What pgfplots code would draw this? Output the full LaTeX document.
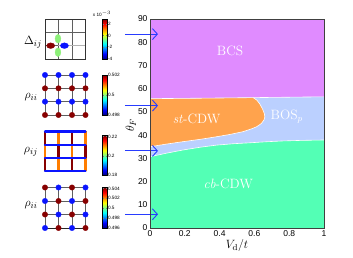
\documentclass[border=0pt]{standalone}
\usepackage{fontspec}
\newfontfamily\arial{Liberation Sans}
\usepackage{pgfplots}
\pgfplotsset{compat=1.18}
\usetikzlibrary{arrows.meta}
\definecolor{bcs}{RGB}{224,139,255}
\definecolor{stcdw}{RGB}{255,163,77}
\definecolor{bos}{RGB}{187,208,255}
\definecolor{cbcdw}{RGB}{83,255,181}
\definecolor{arrowblue}{RGB}{40,60,255}
\definecolor{jred}{RGB}{135,0,0}
\definecolor{jblue}{RGB}{10,20,255}
\definecolor{jorange}{RGB}{255,125,0}
\definecolor{jgreen}{RGB}{140,240,120}
\definecolor{latgray}{RGB}{95,95,95}
\pgfplotsset{
  inset/.style={scale only axis, width=40.5pt, height=40pt,
    xmin=0, xmax=3, ymin=0, ymax=3, hide axis, clip=false,
    colorbar, colormap/jet,
    colorbar style={at={(parent axis.north east)}, anchor=north west,
      xshift=8.5pt, width=4.5pt,
      major tick length=1pt,
      axis line style={line width=0.4pt},
      yticklabel style={font=\arial\fontsize{4.7}{5}\selectfont, inner xsep=0.8pt},
    }},
  cbstyle/.style={colorbar style={#1}},
}
\begin{document}
\begin{tikzpicture}[x=1pt,y=1pt]
\path[use as bounding box] (0,0) rectangle (353,257);

% ---------------- main phase diagram ----------------
\begin{axis}[
  at={(150pt,29pt)}, anchor=south west, scale only axis,
  width=174pt, height=209pt,
  xmin=0, xmax=1, ymin=0, ymax=90,
  xtick={0,0.2,0.4,0.6,0.8,1}, xticklabels={0,0.2,0.4,0.6,0.8,1},
  ytick={0,10,20,30,40,50,60,70,80,90},
  tick label style={font=\arial\fontsize{8.5}{9}\selectfont},
  /pgf/number format/assume math mode=true,
  tick style={draw=none},
  axis line style={draw=black!75, line width=0.8pt},
  axis on top, clip=false,
  xlabel={$V_{\mathrm{d}}/t$},
  label style={font=\fontsize{12.5}{14}\selectfont},
  xlabel style={yshift=4pt},
  yticklabel style={xshift=1pt},
  xticklabel style={yshift=1pt},
]
\addplot[fill=bcs, draw=none] coordinates {(0,0)(1,0)(1,90)(0,90)} -- cycle;
\addplot[fill=bos, draw=none] coordinates {(0,0)(1,0)(1,56.5)(0.6,56.15)(0.3,55.9)(0,55.7)} -- cycle;
\addplot[fill=stcdw, draw=none] coordinates {(0,55.7)(0.3,55.9)(0.594,56.1)(0.615,55.0)(0.632,53.3)(0.647,51.2)(0.657,49.3)(0.660,47.8)(0.655,46.5)(0.640,45.0)(0.613,43.6)(0.58,42.6)(0.536,41.5)(0.46,40.3)(0.383,39.3)(0.29,38.2)(0.192,37.2)(0.1,36.2)(0,35.0)} -- cycle;
\addplot[fill=cbcdw, draw=none] coordinates {(0,0)(1,0)(1,37.9)(0.88,37.75)(0.766,37.5)(0.67,37.15)(0.575,36.7)(0.48,36.3)(0.383,35.7)(0.29,34.8)(0.19,33.6)(0.1,32.3)(0.05,31.5)(0,30.7)} -- cycle;
\addplot[white, line width=0.6pt] coordinates {(0,55.7)(0.3,55.9)(0.6,56.15)(1,56.5)};
\addplot[white, line width=0.6pt] coordinates {(0.594,56.1)(0.615,55.0)(0.632,53.3)(0.647,51.2)(0.657,49.3)(0.660,47.8)(0.655,46.5)(0.640,45.0)(0.613,43.6)(0.58,42.6)(0.536,41.5)(0.46,40.3)(0.383,39.3)(0.29,38.2)(0.192,37.2)(0.1,36.2)(0,35.0)};
\addplot[white, line width=0.6pt] coordinates {(0,30.7)(0.05,31.5)(0.1,32.3)(0.19,33.6)(0.29,34.8)(0.383,35.7)(0.48,36.3)(0.575,36.7)(0.67,37.15)(0.766,37.5)(0.88,37.75)(1,37.9)};
\node[white, font=\fontsize{13.5}{15}\selectfont] at (axis cs:0.46,76.3) {BCS};
\node[white, font=\fontsize{13.5}{15}\selectfont] at (axis cs:0.268,46.8) {\textit{st}-CDW};
\node[white, font=\fontsize{13.5}{15}\selectfont] at (axis cs:0.786,47.9) {BOS$_p$};
\node[white, font=\fontsize{13.5}{15}\selectfont] at (axis cs:0.45,19.2) {\textit{cb}-CDW};
\foreach \yy in {83.5,52.7,33.2,5.9}{
  \edef\tmp{\noexpand\draw[arrowblue, line width=0.9pt, -{Straight Barb[length=5pt,width=11pt]}] (axis cs:-0.144,\yy) -- (axis cs:0.046,\yy);}
  \tmp
}
\end{axis}
\node[font=\fontsize{12.5}{14}\selectfont, rotate=90] at (131,132) {$\theta_F$};

% ---------------- inset 1: Delta_ij ----------------
\begin{axis}[inset, at={(45pt,198pt)}, anchor=south west,
  point meta min=-4, point meta max=2.8,
  cbstyle={ytick={-4,-2,0,2}, yticklabels={-4,-2,0,2}}]
\addplot[latgray, line width=0.6pt] coordinates {(1,0)(1,3)};
\addplot[latgray, line width=0.6pt] coordinates {(2,0)(2,3)};
\addplot[latgray, line width=0.6pt] coordinates {(0,1)(1,1)};
\addplot[gray!60, line width=0.6pt] coordinates {(1,1)(3,1)};
\addplot[latgray, line width=0.6pt] coordinates {(0,2)(3,2)};
\addplot[black!80, line width=0.8pt] coordinates {(0,0)(3,0)(3,3)(0,3)(0,0)};
\addplot[only marks, mark=*, mark size=2.8pt, mark options={xscale=1.45, fill=jred, draw=jred}] coordinates {(0.42,1)};
\addplot[only marks, mark=*, mark size=2.8pt, mark options={xscale=1.45, fill=jblue, draw=jblue}] coordinates {(1.44,1)};
\addplot[only marks, mark=*, mark size=2.9pt, mark options={yscale=1.5, fill=jgreen, draw=jgreen}] coordinates {(0.96,1.52)(0.96,0.51)};
\end{axis}
\node[font=\arial\fontsize{4.7}{5}\selectfont] at (102,243) {x 10$^{-3}$};

% ---------------- inset 2: rho_ii stripes ----------------
\begin{axis}[inset, at={(45pt,142pt)}, anchor=south west,
  point meta min=0.498, point meta max=0.502,
  cbstyle={ytick={0.498,0.5,0.502}, yticklabels={0.498,0.5,0.502}}]
\addplot[latgray, line width=0.7pt] coordinates {(0,0)(3,0)};
\addplot[latgray, line width=0.7pt] coordinates {(0,1)(3,1)};
\addplot[latgray, line width=0.7pt] coordinates {(0,2)(3,2)};
\addplot[latgray, line width=0.7pt] coordinates {(0,3)(3,3)};
\addplot[latgray, line width=0.7pt] coordinates {(0,0)(0,3)};
\addplot[latgray, line width=0.7pt] coordinates {(1,0)(1,3)};
\addplot[latgray, line width=0.7pt] coordinates {(2,0)(2,3)};
\addplot[latgray, line width=0.7pt] coordinates {(3,0)(3,3)};
\addplot[only marks, mark=*, mark size=2.7pt, mark options={fill=jblue, draw=jblue}] coordinates {(0,3)(1,3)(2,3)(3,3)(0,1)(1,1)(2,1)(3,1)};
\addplot[only marks, mark=*, mark size=2.7pt, mark options={fill=jred, draw=jred}] coordinates {(0,2)(1,2)(2,2)(3,2)(0,0)(1,0)(2,0)(3,0)};
\end{axis}

% ---------------- inset 3: rho_ij bonds ----------------
\begin{axis}[inset, at={(45pt,86pt)}, anchor=south west, height=39.5pt,
  point meta min=0.18, point meta max=0.221,
  cbstyle={yshift=-4pt, ytick={0.18,0.2,0.22}, yticklabels={0.18,0.2,0.22}}]
\addplot[jred, line width=2.6pt] coordinates {(0,2)(0,3)};
\addplot[jorange, line width=2.6pt] coordinates {(1,2)(1,3)};
\addplot[jred, line width=2.6pt] coordinates {(2,2)(2,3)};
\addplot[jorange, line width=2.6pt] coordinates {(3,2)(3,3)};
\addplot[jorange, line width=2.6pt] coordinates {(0,1)(0,2)};
\addplot[jred, line width=2.6pt] coordinates {(1,1)(1,2)};
\addplot[jorange, line width=2.6pt] coordinates {(2,1)(2,2)};
\addplot[jred, line width=2.6pt] coordinates {(3,1)(3,2)};
\addplot[jred, line width=2.6pt] coordinates {(0,0)(0,1)};
\addplot[jorange, line width=2.6pt] coordinates {(1,0)(1,1)};
\addplot[jred, line width=2.6pt] coordinates {(2,0)(2,1)};
\addplot[jorange, line width=2.6pt] coordinates {(3,0)(3,1)};
\addplot[jblue, line width=2.2pt, line cap=round] coordinates {(0,0)(3,0)};
\addplot[jblue, line width=2.2pt, line cap=round] coordinates {(0,1)(3,1)};
\addplot[jblue, line width=2.2pt, line cap=round] coordinates {(0,2)(3,2)};
\addplot[jblue, line width=2.2pt, line cap=round] coordinates {(0,3)(3,3)};
\end{axis}

% ---------------- inset 4: rho_ii checkerboard ----------------
\begin{axis}[inset, at={(45pt,29pt)}, anchor=south west, height=40.5pt,
  point meta min=0.496, point meta max=0.5042,
  cbstyle={ytick={0.496,0.498,0.5,0.502,0.504}, yticklabels={0.496,0.498,0.5,0.502,0.504}}]
\addplot[black!85, line width=0.8pt] coordinates {(0,0)(3,0)};
\addplot[latgray, line width=0.7pt] coordinates {(0,1)(3,1)};
\addplot[latgray, line width=0.7pt] coordinates {(0,2)(3,2)};
\addplot[latgray, line width=0.7pt] coordinates {(0,3)(3,3)};
\addplot[latgray, line width=0.7pt] coordinates {(0,0)(0,3)};
\addplot[latgray, line width=0.7pt] coordinates {(1,0)(1,3)};
\addplot[latgray, line width=0.7pt] coordinates {(2,0)(2,3)};
\addplot[latgray, line width=0.7pt] coordinates {(3,0)(3,3)};
\addplot[only marks, mark=*, mark size=2.7pt, mark options={fill=jred, draw=jred}] coordinates {(0,3)(2,3)(1,2)(3,2)(0,1)(2,1)(1,0)(3,0)};
\addplot[only marks, mark=*, mark size=2.7pt, mark options={fill=jblue, draw=jblue}] coordinates {(1,3)(3,3)(0,2)(2,2)(1,1)(3,1)(0,0)(2,0)};
\end{axis}

% inset labels
\node[font=\fontsize{12.5}{14}\selectfont] at (33,215) {$\Delta_{ij}$};
\node[font=\fontsize{12.5}{14}\selectfont] at (31,160) {$\rho_{ii}$};
\node[font=\fontsize{12.5}{14}\selectfont] at (31,105) {$\rho_{ij}$};
\node[font=\fontsize{12.5}{14}\selectfont] at (31,52) {$\rho_{ii}$};
\end{tikzpicture}
\end{document}
